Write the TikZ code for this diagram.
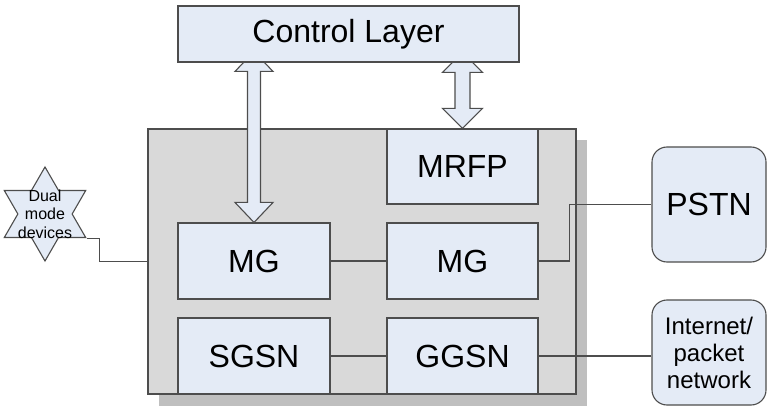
\documentclass[tikz,border=0pt]{standalone}
\usepackage{fontspec}
\setmainfont{Liberation Sans}
\usetikzlibrary{shapes.geometric,calc}
\definecolor{boxfill}{HTML}{E4EBF6}
\definecolor{boxline}{HTML}{4D4D4D}
\definecolor{sysgray}{HTML}{D9D9D9}
\definecolor{shadowgray}{HTML}{BFBFBF}
\newcommand\dblarrow[5]{%
  \path[barrow] let \p1=(#1), \p2=(#2) in
  (\x1,\y1) -- (\x1+#4,\y1-#5) -- (\x1+#3,\y1-#5) -- (\x1+#3,\y2+#5)
  -- (\x1+#4,\y2+#5) -- (\x1,\y2) -- (\x1-#4,\y2+#5) -- (\x1-#3,\y2+#5)
  -- (\x1-#3,\y1-#5) -- (\x1-#4,\y1-#5) -- cycle;}
\begin{document}
\begin{tikzpicture}[x=1pt,y=-1pt,
  blk/.style={draw=boxline,fill=boxfill,line width=1.1pt,inner sep=0pt,
    font=\fontsize{32}{38}\selectfont},
  rblk/.style={blk,rounded corners=15pt},
  barrow/.style={draw=boxline,fill=boxfill,line width=1.1pt,line join=miter},
  conn/.style={draw=boxline,line width=1.1pt}]
\useasboundingbox (0,0) rectangle (768,414);
% shadow and system box
\fill[shadowgray] (159,140) rectangle (587,406);
\node[draw=boxline,fill=sysgray,line width=1.1pt,inner sep=0pt,
  minimum width=428pt,minimum height=265pt] (sys) at (362,261.5) {};
% nodes (positions)
\node[blk,minimum width=152pt,minimum height=76pt] (mga) at (254,261) {MG};
\node[blk,minimum width=151pt,minimum height=75pt] (mrfp) at (462.5,166.5) {MRFP};
% block arrows behind the control layer
\coordinate (tipa) at ($(mga.north)+(0,-171)$);
\coordinate (tipb) at ($(mrfp.north)+(0,-76)$);
\dblarrow{tipa}{mga.north}{6.5pt}{19pt}{20pt}
\dblarrow{tipb}{mrfp.north}{7.5pt}{20pt}{20pt}
\node[blk,minimum width=341pt,minimum height=56pt,
  font=\fontsize{32}{38}\selectfont] (ctrl) at (348.5,34) {Control Layer};
\node[blk,minimum width=151pt,minimum height=76pt] (mgb) at (462.5,261) {MG};
\node[blk,minimum width=152pt,minimum height=76pt] (sgsn) at (254,356) {SGSN};
\node[blk,minimum width=151pt,minimum height=76pt] (ggsn) at (462.5,356) {GGSN};
\node[rblk,minimum width=114pt,minimum height=115pt] (pstn) at (709,204.5) {PSTN};
\node[rblk,minimum width=114pt,minimum height=105pt,align=center,
  font=\fontsize{24}{27}\selectfont] (inet) at (709,352.5) {Internet/\\packet\\network};
% star
\node[star,star points=6,star point ratio=1.732,minimum size=94pt,inner sep=0pt,
  draw=boxline,fill=boxfill,line width=1.1pt] (dual) at (45,214) {};
\node[align=center,inner sep=0pt,font=\fontsize{16}{18.5}\selectfont] (dualtxt) at (45,214) {Dual\\mode\\devices};
% connectors
\draw[conn] (dual.outer point 5) -- ++(13,0) |- (sys.west);
\draw[conn] (mga.east) -- (mgb.west);
\draw[conn] (mgb.east) -- ++(31,0) |- (pstn.west);
\draw[conn] (sgsn.east) -- (ggsn.west);
\draw[conn] (ggsn.east) -- (ggsn.east -| inet.west);
\end{tikzpicture}
\end{document}
